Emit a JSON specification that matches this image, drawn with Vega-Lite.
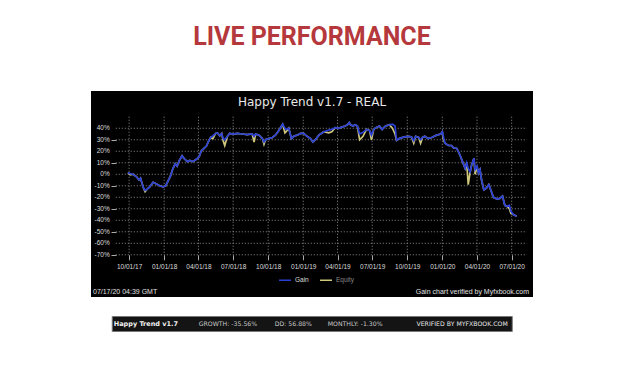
{
  "$schema": "https://vega.github.io/schema/vega-lite/v6.json",
  "background": "white",
  "padding": {"left": 91, "top": 25, "right": 0, "bottom": 0},
  "title": {"text": "LIVE PERFORMANCE", "font": "Roboto", "fontSize": 25, "fontWeight": "bold", "color": "#b5383c", "anchor": "middle", "baseline": "top", "offset": 41},
  "config": {"view": {"stroke": null}},
  "spacing": 18,
  "center": true,
  "datasets": {
    "xgrid": [
      {"d": "2017-10-01"}, {"d": "2018-01-01"}, {"d": "2018-04-01"}, {"d": "2018-07-01"},
      {"d": "2018-10-01"}, {"d": "2019-01-01"}, {"d": "2019-04-01"}, {"d": "2019-07-01"},
      {"d": "2019-10-01"}, {"d": "2020-01-01"}, {"d": "2020-04-01"}, {"d": "2020-07-01"}
    ],
    "ygrid": [
      {"v": 0.4, "label": "40%"}, {"v": 0.3, "label": "30%"}, {"v": 0.2, "label": "20%"},
      {"v": 0.1, "label": "10%"}, {"v": 0, "label": "0%"}, {"v": -0.1, "label": "-10%"},
      {"v": -0.2, "label": "-20%"}, {"v": -0.3, "label": "-30%"}, {"v": -0.4, "label": "-40%"},
      {"v": -0.5, "label": "-50%"}, {"v": -0.6, "label": "-60%"}, {"v": -0.7, "label": "-70%"}
    ],
    "perf": [
      {"d": "2017-09-28", "Gain": 0.015, "Equity": 0.015},
      {"d": "2017-10-04", "Gain": 0.005, "Equity": -0.005},
      {"d": "2017-10-11", "Gain": 0.0, "Equity": 0.0},
      {"d": "2017-10-20", "Gain": -0.02, "Equity": -0.02},
      {"d": "2017-10-27", "Gain": -0.05, "Equity": -0.05},
      {"d": "2017-10-31", "Gain": -0.035, "Equity": -0.035},
      {"d": "2017-11-04", "Gain": -0.08, "Equity": -0.08},
      {"d": "2017-11-08", "Gain": -0.12, "Equity": -0.12},
      {"d": "2017-11-12", "Gain": -0.14, "Equity": -0.15},
      {"d": "2017-11-17", "Gain": -0.13, "Equity": -0.13},
      {"d": "2017-11-24", "Gain": -0.11, "Equity": -0.11},
      {"d": "2017-12-03", "Gain": -0.07, "Equity": -0.07},
      {"d": "2017-12-12", "Gain": -0.085, "Equity": -0.085},
      {"d": "2017-12-20", "Gain": -0.10, "Equity": -0.10},
      {"d": "2017-12-29", "Gain": -0.11, "Equity": -0.11},
      {"d": "2018-01-05", "Gain": -0.10, "Equity": -0.10},
      {"d": "2018-01-11", "Gain": -0.06, "Equity": -0.06},
      {"d": "2018-01-17", "Gain": -0.02, "Equity": -0.02},
      {"d": "2018-01-24", "Gain": 0.05, "Equity": 0.05},
      {"d": "2018-01-30", "Gain": 0.09, "Equity": 0.09},
      {"d": "2018-02-04", "Gain": 0.07, "Equity": 0.07},
      {"d": "2018-02-10", "Gain": 0.12, "Equity": 0.12},
      {"d": "2018-02-17", "Gain": 0.16, "Equity": 0.16},
      {"d": "2018-02-23", "Gain": 0.135, "Equity": 0.135},
      {"d": "2018-03-03", "Gain": 0.11, "Equity": 0.11},
      {"d": "2018-03-09", "Gain": 0.12, "Equity": 0.12},
      {"d": "2018-03-18", "Gain": 0.11, "Equity": 0.11},
      {"d": "2018-03-28", "Gain": 0.135, "Equity": 0.135},
      {"d": "2018-04-03", "Gain": 0.155, "Equity": 0.155},
      {"d": "2018-04-08", "Gain": 0.20, "Equity": 0.20},
      {"d": "2018-04-14", "Gain": 0.22, "Equity": 0.22},
      {"d": "2018-04-22", "Gain": 0.245, "Equity": 0.245},
      {"d": "2018-04-28", "Gain": 0.29, "Equity": 0.29},
      {"d": "2018-05-03", "Gain": 0.32, "Equity": 0.32},
      {"d": "2018-05-09", "Gain": 0.335, "Equity": 0.31},
      {"d": "2018-05-16", "Gain": 0.355, "Equity": 0.355},
      {"d": "2018-05-21", "Gain": 0.36, "Equity": 0.36},
      {"d": "2018-05-27", "Gain": 0.335, "Equity": 0.335},
      {"d": "2018-06-01", "Gain": 0.355, "Equity": 0.355},
      {"d": "2018-06-05", "Gain": 0.31, "Equity": 0.29},
      {"d": "2018-06-09", "Gain": 0.30, "Equity": 0.25},
      {"d": "2018-06-16", "Gain": 0.33, "Equity": 0.33},
      {"d": "2018-06-22", "Gain": 0.355, "Equity": 0.355},
      {"d": "2018-07-01", "Gain": 0.35, "Equity": 0.35},
      {"d": "2018-07-12", "Gain": 0.355, "Equity": 0.355},
      {"d": "2018-07-25", "Gain": 0.35, "Equity": 0.35},
      {"d": "2018-08-07", "Gain": 0.345, "Equity": 0.345},
      {"d": "2018-08-20", "Gain": 0.35, "Equity": 0.35},
      {"d": "2018-08-25", "Gain": 0.33, "Equity": 0.28},
      {"d": "2018-08-29", "Gain": 0.35, "Equity": 0.35},
      {"d": "2018-09-07", "Gain": 0.34, "Equity": 0.34},
      {"d": "2018-09-16", "Gain": 0.31, "Equity": 0.31},
      {"d": "2018-09-20", "Gain": 0.28, "Equity": 0.26},
      {"d": "2018-09-24", "Gain": 0.30, "Equity": 0.30},
      {"d": "2018-10-03", "Gain": 0.31, "Equity": 0.31},
      {"d": "2018-10-12", "Gain": 0.32, "Equity": 0.32},
      {"d": "2018-10-20", "Gain": 0.34, "Equity": 0.34},
      {"d": "2018-10-29", "Gain": 0.38, "Equity": 0.38},
      {"d": "2018-11-05", "Gain": 0.42, "Equity": 0.42},
      {"d": "2018-11-08", "Gain": 0.435, "Equity": 0.435},
      {"d": "2018-11-14", "Gain": 0.40, "Equity": 0.36},
      {"d": "2018-11-17", "Gain": 0.39, "Equity": 0.37},
      {"d": "2018-11-24", "Gain": 0.40, "Equity": 0.40},
      {"d": "2018-12-01", "Gain": 0.31, "Equity": 0.31},
      {"d": "2018-12-07", "Gain": 0.33, "Equity": 0.33},
      {"d": "2018-12-16", "Gain": 0.34, "Equity": 0.34},
      {"d": "2018-12-25", "Gain": 0.355, "Equity": 0.355},
      {"d": "2019-01-02", "Gain": 0.355, "Equity": 0.355},
      {"d": "2019-01-11", "Gain": 0.33, "Equity": 0.33},
      {"d": "2019-01-20", "Gain": 0.31, "Equity": 0.31},
      {"d": "2019-01-26", "Gain": 0.28, "Equity": 0.28},
      {"d": "2019-02-02", "Gain": 0.30, "Equity": 0.30},
      {"d": "2019-02-11", "Gain": 0.34, "Equity": 0.34},
      {"d": "2019-02-24", "Gain": 0.37, "Equity": 0.37},
      {"d": "2019-03-09", "Gain": 0.385, "Equity": 0.36},
      {"d": "2019-03-17", "Gain": 0.39, "Equity": 0.37},
      {"d": "2019-03-26", "Gain": 0.405, "Equity": 0.405},
      {"d": "2019-04-04", "Gain": 0.40, "Equity": 0.40},
      {"d": "2019-04-12", "Gain": 0.41, "Equity": 0.41},
      {"d": "2019-04-21", "Gain": 0.42, "Equity": 0.42},
      {"d": "2019-04-27", "Gain": 0.43, "Equity": 0.43},
      {"d": "2019-05-02", "Gain": 0.45, "Equity": 0.45},
      {"d": "2019-05-05", "Gain": 0.43, "Equity": 0.43},
      {"d": "2019-05-12", "Gain": 0.42, "Equity": 0.42},
      {"d": "2019-05-17", "Gain": 0.43, "Equity": 0.43},
      {"d": "2019-05-23", "Gain": 0.42, "Equity": 0.42},
      {"d": "2019-05-29", "Gain": 0.35, "Equity": 0.30},
      {"d": "2019-06-07", "Gain": 0.365, "Equity": 0.33},
      {"d": "2019-06-16", "Gain": 0.39, "Equity": 0.39},
      {"d": "2019-06-24", "Gain": 0.38, "Equity": 0.38},
      {"d": "2019-06-29", "Gain": 0.34, "Equity": 0.30},
      {"d": "2019-07-05", "Gain": 0.39, "Equity": 0.39},
      {"d": "2019-07-11", "Gain": 0.405, "Equity": 0.405},
      {"d": "2019-07-20", "Gain": 0.42, "Equity": 0.42},
      {"d": "2019-07-27", "Gain": 0.39, "Equity": 0.39},
      {"d": "2019-08-05", "Gain": 0.42, "Equity": 0.42},
      {"d": "2019-08-15", "Gain": 0.43, "Equity": 0.43},
      {"d": "2019-08-23", "Gain": 0.435, "Equity": 0.40},
      {"d": "2019-08-30", "Gain": 0.42, "Equity": 0.35},
      {"d": "2019-09-03", "Gain": 0.295, "Equity": 0.295},
      {"d": "2019-09-10", "Gain": 0.31, "Equity": 0.31},
      {"d": "2019-09-23", "Gain": 0.325, "Equity": 0.325},
      {"d": "2019-10-05", "Gain": 0.33, "Equity": 0.33},
      {"d": "2019-10-12", "Gain": 0.325, "Equity": 0.325},
      {"d": "2019-10-18", "Gain": 0.29, "Equity": 0.27},
      {"d": "2019-10-23", "Gain": 0.33, "Equity": 0.33},
      {"d": "2019-10-31", "Gain": 0.32, "Equity": 0.32},
      {"d": "2019-11-05", "Gain": 0.30, "Equity": 0.27},
      {"d": "2019-11-10", "Gain": 0.32, "Equity": 0.32},
      {"d": "2019-11-16", "Gain": 0.33, "Equity": 0.33},
      {"d": "2019-11-25", "Gain": 0.31, "Equity": 0.31},
      {"d": "2019-12-04", "Gain": 0.32, "Equity": 0.32},
      {"d": "2019-12-17", "Gain": 0.34, "Equity": 0.34},
      {"d": "2019-12-28", "Gain": 0.35, "Equity": 0.35},
      {"d": "2020-01-01", "Gain": 0.37, "Equity": 0.37},
      {"d": "2020-01-04", "Gain": 0.325, "Equity": 0.30},
      {"d": "2020-01-08", "Gain": 0.27, "Equity": 0.27},
      {"d": "2020-01-17", "Gain": 0.25, "Equity": 0.25},
      {"d": "2020-01-25", "Gain": 0.25, "Equity": 0.25},
      {"d": "2020-01-30", "Gain": 0.23, "Equity": 0.23},
      {"d": "2020-02-08", "Gain": 0.225, "Equity": 0.225},
      {"d": "2020-02-16", "Gain": 0.17, "Equity": 0.17},
      {"d": "2020-02-23", "Gain": 0.11, "Equity": 0.11},
      {"d": "2020-03-01", "Gain": 0.05, "Equity": 0.05},
      {"d": "2020-03-05", "Gain": 0.10, "Equity": 0.10},
      {"d": "2020-03-09", "Gain": 0.05, "Equity": -0.09},
      {"d": "2020-03-14", "Gain": 0.02, "Equity": 0.02},
      {"d": "2020-03-18", "Gain": 0.08, "Equity": 0.08},
      {"d": "2020-03-24", "Gain": 0.14, "Equity": 0.14},
      {"d": "2020-03-27", "Gain": 0.04, "Equity": 0.0},
      {"d": "2020-04-01", "Gain": 0.07, "Equity": 0.07},
      {"d": "2020-04-05", "Gain": 0.01, "Equity": 0.01},
      {"d": "2020-04-09", "Gain": 0.04, "Equity": 0.04},
      {"d": "2020-04-13", "Gain": -0.05, "Equity": -0.05},
      {"d": "2020-04-19", "Gain": -0.135, "Equity": -0.135},
      {"d": "2020-04-26", "Gain": -0.12, "Equity": -0.12},
      {"d": "2020-05-02", "Gain": -0.09, "Equity": -0.09},
      {"d": "2020-05-07", "Gain": -0.135, "Equity": -0.135},
      {"d": "2020-05-14", "Gain": -0.20, "Equity": -0.20},
      {"d": "2020-05-24", "Gain": -0.215, "Equity": -0.215},
      {"d": "2020-05-31", "Gain": -0.21, "Equity": -0.21},
      {"d": "2020-06-07", "Gain": -0.19, "Equity": -0.19},
      {"d": "2020-06-13", "Gain": -0.27, "Equity": -0.27},
      {"d": "2020-06-19", "Gain": -0.28, "Equity": -0.28},
      {"d": "2020-06-25", "Gain": -0.27, "Equity": -0.30},
      {"d": "2020-06-29", "Gain": -0.32, "Equity": -0.34},
      {"d": "2020-07-05", "Gain": -0.35, "Equity": -0.35},
      {"d": "2020-07-14", "Gain": -0.365, "Equity": -0.365}
    ],
    "notes": [
      {"stamp": "07/17/20 04:39 GMT", "credit": "Gain chart verified by Myfxbook.com"}
    ],
    "badge": [
      {"name": "Happy Trend v1.7", "growth": "GROWTH: -35.56%", "dd": "DD: 56.88%", "monthly": "MONTHLY: -1.30%", "verified": "VERIFIED BY MYFXBOOK.COM"}
    ]
  },
  "vconcat": [
    {
      "width": 442,
      "height": 206,
      "view": {"fill": "#000000", "stroke": null},
      "title": {"text": "Happy Trend v1.7 - REAL", "font": "DejaVu Sans", "fontSize": 12, "fontWeight": "normal", "color": "#e8e8e8", "anchor": "middle", "baseline": "alphabetic", "offset": -27},
      "layer": [
        {
          "data": {"name": "xgrid"},
          "mark": {"type": "rule", "color": "#8c8c8c", "strokeDash": [1, 2], "strokeWidth": 1},
          "encoding": {
            "x": {"field": "d", "type": "temporal",
                  "scale": {"type": "utc", "nice": false, "domain": [{"year": 2017, "month": 6, "date": 23, "utc": true}, {"year": 2020, "month": 8, "date": 26, "utc": true}]}},
            "y": {"datum": 0.5, "type": "quantitative", "scale": {"domain": [-1.067, 0.724], "nice": false, "zero": false}},
            "y2": {"datum": -0.7}
          }
        },
        {
          "data": {"name": "ygrid"},
          "mark": {"type": "rule", "color": "#8c8c8c", "strokeDash": [1, 2], "strokeWidth": 1},
          "encoding": {
            "y": {"field": "v", "type": "quantitative", "scale": {"domain": [-1.067, 0.724], "nice": false, "zero": false}},
            "x": {"datum": {"year": 2017, "month": 8, "date": 27, "utc": true}, "type": "temporal",
                  "scale": {"type": "utc", "nice": false, "domain": [{"year": 2017, "month": 6, "date": 23, "utc": true}, {"year": 2020, "month": 8, "date": 26, "utc": true}]}},
            "x2": {"datum": {"year": 2020, "month": 8, "date": 10, "utc": true}}
          }
        },
        {
          "data": {"name": "ygrid"},
          "mark": {"type": "text", "align": "right", "baseline": "middle", "dx": -6, "font": "Liberation Sans", "fontSize": 6.5, "color": "#dddddd"},
          "encoding": {
            "y": {"field": "v", "type": "quantitative", "scale": {"domain": [-1.067, 0.724], "nice": false, "zero": false}},
            "x": {"datum": {"year": 2017, "month": 8, "date": 27, "utc": true}, "type": "temporal",
                  "scale": {"type": "utc", "nice": false, "domain": [{"year": 2017, "month": 6, "date": 23, "utc": true}, {"year": 2020, "month": 8, "date": 26, "utc": true}]}},
            "text": {"field": "label"}
          }
        },
        {
          "data": {"name": "perf"},
          "transform": [{"fold": ["Equity", "Gain"], "as": ["s", "v"]}],
          "mark": {"type": "line", "strokeWidth": 1.7},
          "encoding": {
            "x": {"field": "d", "type": "temporal",
                  "scale": {"type": "utc", "nice": false, "domain": [{"year": 2017, "month": 6, "date": 23, "utc": true}, {"year": 2020, "month": 8, "date": 26, "utc": true}]},
                  "axis": {
                    "title": null, "orient": "bottom", "offset": -42.2, "domain": false, "grid": false,
                    "values": [
                      {"year": 2017, "month": 10, "date": 1, "utc": true}, {"year": 2018, "month": 1, "date": 1, "utc": true},
                      {"year": 2018, "month": 4, "date": 1, "utc": true}, {"year": 2018, "month": 7, "date": 1, "utc": true},
                      {"year": 2018, "month": 10, "date": 1, "utc": true}, {"year": 2019, "month": 1, "date": 1, "utc": true},
                      {"year": 2019, "month": 4, "date": 1, "utc": true}, {"year": 2019, "month": 7, "date": 1, "utc": true},
                      {"year": 2019, "month": 10, "date": 1, "utc": true}, {"year": 2020, "month": 1, "date": 1, "utc": true},
                      {"year": 2020, "month": 4, "date": 1, "utc": true}, {"year": 2020, "month": 7, "date": 1, "utc": true}
                    ],
                    "labelExpr": "utcFormat(datum.value, '%m/%d/%y')",
                    "labelFont": "Liberation Sans", "labelFontSize": 6.5, "labelColor": "#dddddd",
                    "labelOverlap": false, "labelFlush": false, "labelBound": false, "labelPadding": 4,
                    "tickSize": 5, "tickColor": "#aaaaaa", "tickWidth": 1, "zindex": 1
                  }},
            "y": {"field": "v", "type": "quantitative",
                  "scale": {"domain": [-1.067, 0.724], "nice": false, "zero": false},
                  "axis": {
                    "title": null, "orient": "left", "offset": -25, "domain": false, "grid": false, "labels": false,
                    "values": [0.4, 0.3, 0.2, 0.1, 0, -0.1, -0.2, -0.3, -0.4, -0.5, -0.6, -0.7],
                    "tickSize": 5, "tickColor": "#aaaaaa", "tickWidth": 1, "zindex": 1
                  }},
            "color": {"field": "s", "type": "nominal",
                      "scale": {"domain": ["Gain", "Equity"], "range": ["#2a3fd6", "#cfc77a"]},
                      "legend": {
                        "title": null, "orient": "none", "legendX": 187, "legendY": 182, "direction": "horizontal",
                        "symbolType": "stroke", "symbolSize": 144, "symbolStrokeWidth": 1.5,
                        "labelFont": "Liberation Sans", "labelFontSize": 6.5, "labelOffset": 3, "columnPadding": 8,
                        "labelColor": {"expr": "datum.label === 'Gain' ? '#dddddd' : '#888888'"},
                        "padding": 0
                      }}
          }
        },
        {
          "data": {"name": "notes"},
          "mark": {"type": "text", "align": "left", "baseline": "bottom", "dx": 2, "dy": -2, "font": "Liberation Sans", "fontSize": 7, "color": "#e0e0e0"},
          "encoding": {"x": {"value": 0}, "y": {"value": "height"}, "text": {"field": "stamp"}}
        },
        {
          "data": {"name": "notes"},
          "mark": {"type": "text", "align": "right", "baseline": "bottom", "dx": -4, "dy": -2, "font": "Liberation Sans", "fontSize": 7, "color": "#e0e0e0"},
          "encoding": {"x": {"value": "width"}, "y": {"value": "height"}, "text": {"field": "credit"}}
        }
      ]
    },
    {
      "width": 400,
      "height": 15,
      "view": {"fill": "#141414", "stroke": "#777777", "strokeWidth": 1},
      "data": {"name": "badge"},
      "layer": [
        {"mark": {"type": "text", "align": "left", "baseline": "middle", "dx": 2, "font": "DejaVu Sans", "fontSize": 6.5, "fontWeight": "bold", "color": "#f2f2f2"},
         "encoding": {"x": {"value": 0}, "text": {"field": "name"}}},
        {"mark": {"type": "text", "align": "left", "baseline": "middle", "dx": 87, "font": "DejaVu Sans", "fontSize": 6.2, "color": "#c8c8c8"},
         "encoding": {"x": {"value": 0}, "text": {"field": "growth"}}},
        {"mark": {"type": "text", "align": "left", "baseline": "middle", "dx": 163, "font": "DejaVu Sans", "fontSize": 6.2, "color": "#c8c8c8"},
         "encoding": {"x": {"value": 0}, "text": {"field": "dd"}}},
        {"mark": {"type": "text", "align": "left", "baseline": "middle", "dx": 216, "font": "DejaVu Sans", "fontSize": 6.2, "color": "#c8c8c8"},
         "encoding": {"x": {"value": 0}, "text": {"field": "monthly"}}},
        {"mark": {"type": "text", "align": "right", "baseline": "middle", "dx": -4, "font": "DejaVu Sans", "fontSize": 6.2, "color": "#e6e6e6"},
         "encoding": {"x": {"value": "width"}, "text": {"field": "verified"}}}
      ]
    }
  ]
}
